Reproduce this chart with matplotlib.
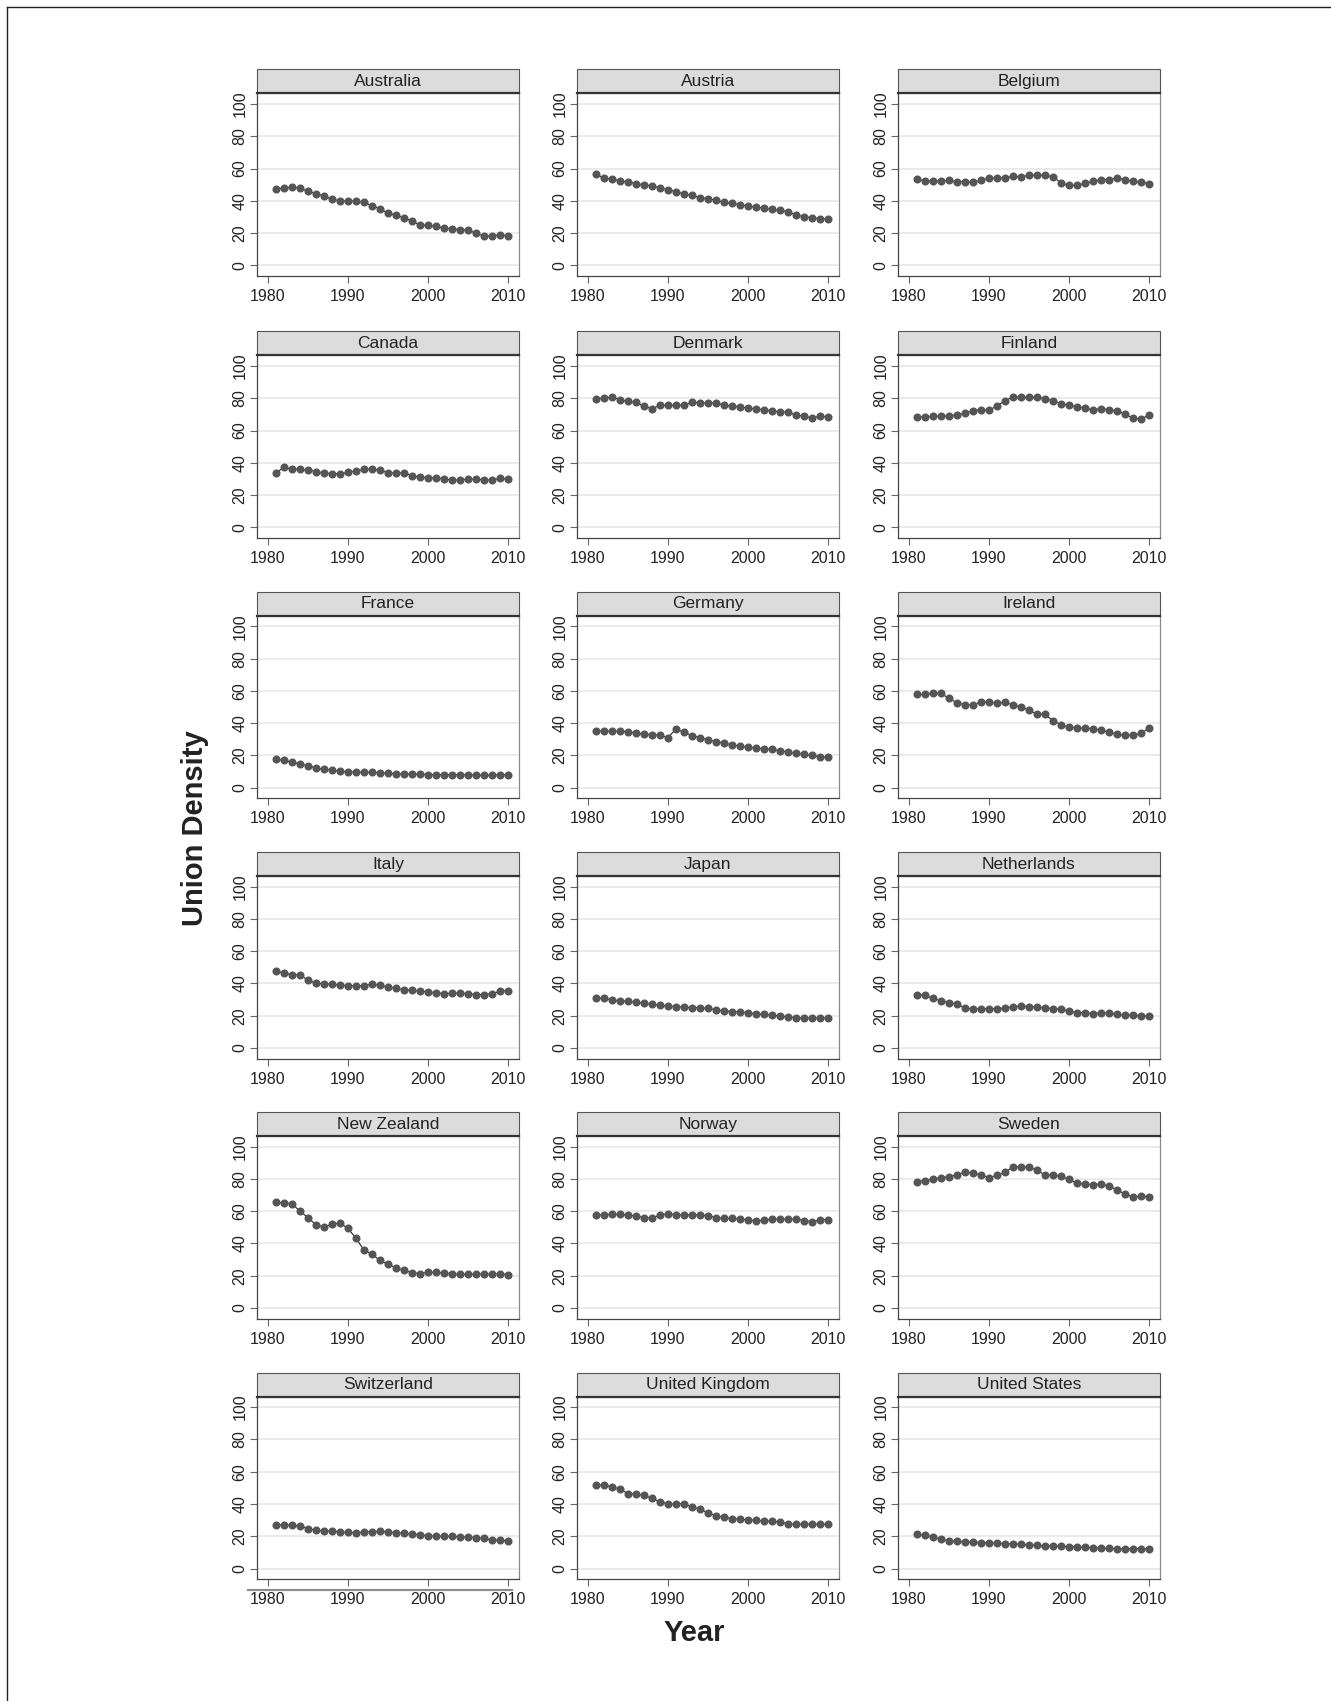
import matplotlib.pyplot as plt
from matplotlib.lines import Line2D
from matplotlib.patches import Rectangle

plt.rcParams['font.family'] = ['Liberation Sans', 'DejaVu Sans']

years = list(range(1981, 2011))

australia = [47.3, 48.0, 48.5, 47.7, 46.0, 44.4, 43.0, 41.0, 40.0, 40.0,
             40.0, 39.0, 37.0, 35.0, 32.4, 31.0, 29.5, 27.3, 25.0, 24.8,
             24.2, 23.0, 22.7, 22.1, 21.9, 19.8, 18.2, 18.2, 19.0, 18.2]
austria = [56.6, 53.9, 53.7, 52.3, 51.7, 50.6, 50.0, 49.2, 48.0, 46.9,
           45.7, 44.2, 43.4, 42.0, 41.3, 40.3, 39.0, 38.4, 37.6, 36.8,
           36.0, 35.5, 34.7, 34.1, 33.3, 31.2, 30.2, 29.5, 28.9, 28.7]
belgium = [53.5, 52.3, 52.3, 52.3, 52.7, 51.7, 51.9, 51.4, 52.7, 54.1,
           54.1, 54.3, 55.2, 54.8, 55.8, 55.8, 55.8, 55.0, 51.0, 49.6,
           49.6, 50.8, 52.0, 53.1, 53.1, 54.1, 53.1, 52.0, 51.7, 50.6]
canada = [33.8, 37.1, 36.1, 35.9, 35.5, 34.6, 33.8, 33.2, 33.2, 34.0,
          35.0, 35.9, 36.1, 35.5, 33.8, 33.8, 33.8, 32.0, 31.3, 30.7,
          30.7, 30.1, 29.3, 29.3, 29.9, 29.9, 29.5, 29.3, 30.3, 29.9]
denmark = [79.8, 80.0, 80.6, 79.2, 78.1, 77.5, 75.0, 73.6, 75.5, 75.5,
           75.5, 75.7, 77.5, 77.3, 76.9, 77.3, 75.5, 75.3, 74.6, 74.0,
           73.4, 72.8, 72.2, 71.5, 71.5, 69.5, 68.9, 67.8, 68.9, 68.5]
finland = [68.5, 68.5, 68.9, 68.9, 69.1, 69.7, 70.7, 72.2, 73.0, 72.4,
           75.3, 78.4, 80.8, 80.6, 80.6, 80.6, 79.8, 78.4, 76.7, 75.5,
           74.8, 73.8, 73.0, 73.4, 73.0, 72.2, 70.1, 67.6, 67.0, 69.7]
france = [17.7, 16.9, 15.8, 14.8, 13.6, 12.3, 11.5, 10.9, 10.3, 9.9,
          9.7, 9.7, 9.5, 9.3, 9.1, 8.6, 8.6, 8.4, 8.4, 8.2,
          8.2, 8.2, 8.2, 8.0, 8.0, 7.8, 7.8, 7.8, 8.0, 8.2]
germany = [35.2, 35.2, 35.0, 35.0, 34.8, 34.0, 33.1, 32.9, 32.5, 31.1,
           36.4, 34.4, 32.3, 31.1, 29.8, 28.6, 27.6, 26.7, 25.7, 25.1,
           24.5, 24.1, 23.7, 23.0, 22.2, 21.6, 20.8, 20.0, 19.3, 18.9]
ireland = [57.8, 57.8, 58.6, 58.6, 55.3, 52.7, 51.4, 51.2, 53.3, 52.9,
           52.5, 52.9, 51.4, 50.0, 48.1, 45.5, 45.5, 41.6, 39.1, 37.7,
           37.0, 37.0, 36.6, 35.6, 34.4, 33.1, 32.5, 32.5, 33.7, 36.8]
italy = [47.9, 46.5, 45.5, 45.3, 42.2, 40.1, 39.9, 39.5, 39.1, 38.7,
         38.5, 38.7, 39.5, 38.9, 37.9, 37.0, 36.0, 35.8, 35.4, 34.8,
         34.4, 33.7, 33.9, 34.2, 33.7, 33.1, 33.1, 33.7, 35.2, 35.6]
japan = [31.1, 30.7, 29.8, 29.4, 29.0, 28.4, 27.8, 27.0, 26.5, 26.1,
         25.7, 25.3, 25.1, 24.9, 24.7, 23.7, 23.0, 22.6, 22.4, 22.0,
         21.2, 20.8, 20.4, 20.0, 19.3, 18.9, 18.7, 18.7, 18.7, 18.7]
netherlands = [33.1, 32.7, 30.7, 29.4, 28.2, 27.4, 24.7, 24.3, 24.3, 24.5,
               24.3, 24.9, 25.5, 26.1, 25.7, 25.5, 24.9, 24.5, 23.9, 23.0,
               22.0, 21.8, 21.4, 21.8, 21.6, 20.8, 20.4, 20.2, 20.0, 19.8]
new_zealand = [65.6, 65.2, 64.7, 60.0, 56.1, 51.5, 50.3, 51.8, 52.8, 49.3,
               43.3, 35.9, 33.4, 29.5, 27.2, 24.9, 23.5, 21.9, 21.4, 22.1,
               22.1, 21.9, 21.2, 20.8, 20.8, 21.0, 21.2, 20.8, 21.4, 20.6]
norway = [57.9, 57.9, 58.1, 58.1, 57.5, 57.1, 56.1, 55.5, 57.9, 58.4,
          57.9, 57.9, 57.7, 57.7, 57.3, 56.1, 55.5, 55.5, 55.1, 54.6,
          54.0, 54.4, 55.1, 55.1, 55.1, 55.1, 54.2, 53.6, 54.6, 54.8]
sweden = [78.4, 79.0, 79.8, 80.8, 81.4, 82.5, 84.3, 83.7, 82.5, 80.8,
          82.3, 84.1, 87.4, 87.6, 87.2, 85.6, 82.3, 82.5, 81.6, 79.8,
          77.3, 76.9, 76.5, 76.9, 75.7, 73.2, 70.7, 68.7, 69.5, 68.9]
switzerland = [27.2, 27.0, 26.8, 26.4, 24.7, 23.7, 23.5, 23.1, 22.9, 22.5,
               22.3, 22.7, 22.9, 23.1, 22.7, 22.3, 21.9, 21.4, 21.0, 20.4,
               20.0, 20.0, 20.0, 19.8, 19.6, 19.2, 18.8, 17.7, 17.5, 17.3]
united_kingdom = [51.8, 51.8, 50.7, 49.3, 46.4, 46.2, 45.4, 43.5, 41.4, 40.0,
                  40.0, 40.2, 38.1, 36.9, 34.4, 32.8, 31.8, 30.9, 30.5, 30.3,
                  29.9, 29.5, 29.3, 28.9, 27.8, 27.4, 27.6, 27.6, 27.4, 27.4]
united_states = [21.2, 20.6, 19.6, 18.1, 17.3, 16.9, 16.5, 16.3, 16.1, 15.7,
                 15.7, 15.5, 15.3, 15.1, 14.6, 14.4, 14.0, 14.0, 13.8, 13.6,
                 13.4, 13.2, 13.0, 12.6, 12.6, 12.2, 12.2, 12.4, 12.4, 12.0]

countries = ["Australia", "Austria", "Belgium", "Canada", "Denmark", "Finland",
             "France", "Germany", "Ireland", "Italy", "Japan", "Netherlands",
             "New Zealand", "Norway", "Sweden", "Switzerland", "United Kingdom",
             "United States"]
series = [australia, austria, belgium, canada, denmark, finland,
          france, germany, ireland, italy, japan, netherlands,
          new_zealand, norway, sweden, switzerland, united_kingdom,
          united_states]

y_ticks = [0, 20, 40, 60, 80, 100]
x_ticks = [1980, 1990, 2000, 2010]

W, H = 1331, 1701
fig = plt.figure(figsize=(W / 100, H / 100), dpi=100)

# panel geometry in pixels
col_left = [256.7, 576.7, 897.7]
row_top = [69.3, 331.3, 591.7, 852.0, 1112.0, 1372.5]
panel_w = 262.5
strip_h = 24.0
panel_h = 182.7

for i, (name, vals) in enumerate(zip(countries, series)):
    r, c = divmod(i, 3)
    left = col_left[c]
    top = row_top[r] + strip_h
    ax = fig.add_axes([left / W, 1 - (top + panel_h) / H, panel_w / W, panel_h / H])

    for yv in y_ticks:
        ax.axhline(yv, color='#ebebeb', lw=1.4, zorder=0)
    ax.plot(years, vals, color='#222222', lw=0.8, zorder=2)
    ax.plot(years, vals, 'o', color='#555555', ms=5.8, mew=0, zorder=3)

    ax.set_xlim(1978.6, 2011.4)
    ax.set_ylim(-6.6, 106.6)
    ax.set_xticks(x_ticks)
    ax.set_yticks(y_ticks)
    ax.tick_params(axis='both', direction='out', length=4.8, width=0.8,
                   color='#666666', labelsize=11.5, labelcolor='#222222')
    ax.tick_params(axis='y', pad=2)
    ax.tick_params(axis='x', pad=4.5)
    for lab in ax.get_yticklabels():
        lab.set_rotation(90)
        lab.set_va('center')

    for side in ['left', 'bottom', 'right']:
        ax.spines[side].set_color('#444444')
        ax.spines[side].set_linewidth(0.9)
    ax.spines['right'].set_color('#888888')
    ax.spines['top'].set_visible(False)

    # facet strip above the panel
    sh = strip_h / panel_h
    ax.add_patch(Rectangle((0, 1), 1, sh, transform=ax.transAxes,
                           facecolor='#dcdcdc', edgecolor='#555555', lw=0.8,
                           clip_on=False, zorder=4))
    ax.plot([0, 1], [1, 1], transform=ax.transAxes, color='#333333', lw=1.6,
            clip_on=False, zorder=5)
    ax.text(0.5, 1 + sh / 2, name, transform=ax.transAxes, ha='center',
            va='center', fontsize=12.5, color='#222222', zorder=6)

fig.text(195 / W, 1 - 828 / H, "Union Density", rotation=90, ha='center',
         va='center', fontsize=21, fontweight='bold', color='#222222')
fig.text(694 / W, 1 - 1633 / H, "Year", ha='center', va='center',
         fontsize=21, fontweight='bold', color='#222222')

# page frame on the top and left edges
fig.add_artist(Line2D([7 / W, 1], [1 - 7 / H, 1 - 7 / H], color='#222222', lw=1.0))
fig.add_artist(Line2D([7 / W, 7 / W], [0, 1 - 7 / H], color='#222222', lw=1.0))
# stray rule under the Switzerland panel
fig.add_artist(Line2D([248 / W, 512 / W], [1 - 1590 / H, 1 - 1590 / H],
                      color='#8c8c8c', lw=1.6))

fig.savefig('out.png', dpi=100)
